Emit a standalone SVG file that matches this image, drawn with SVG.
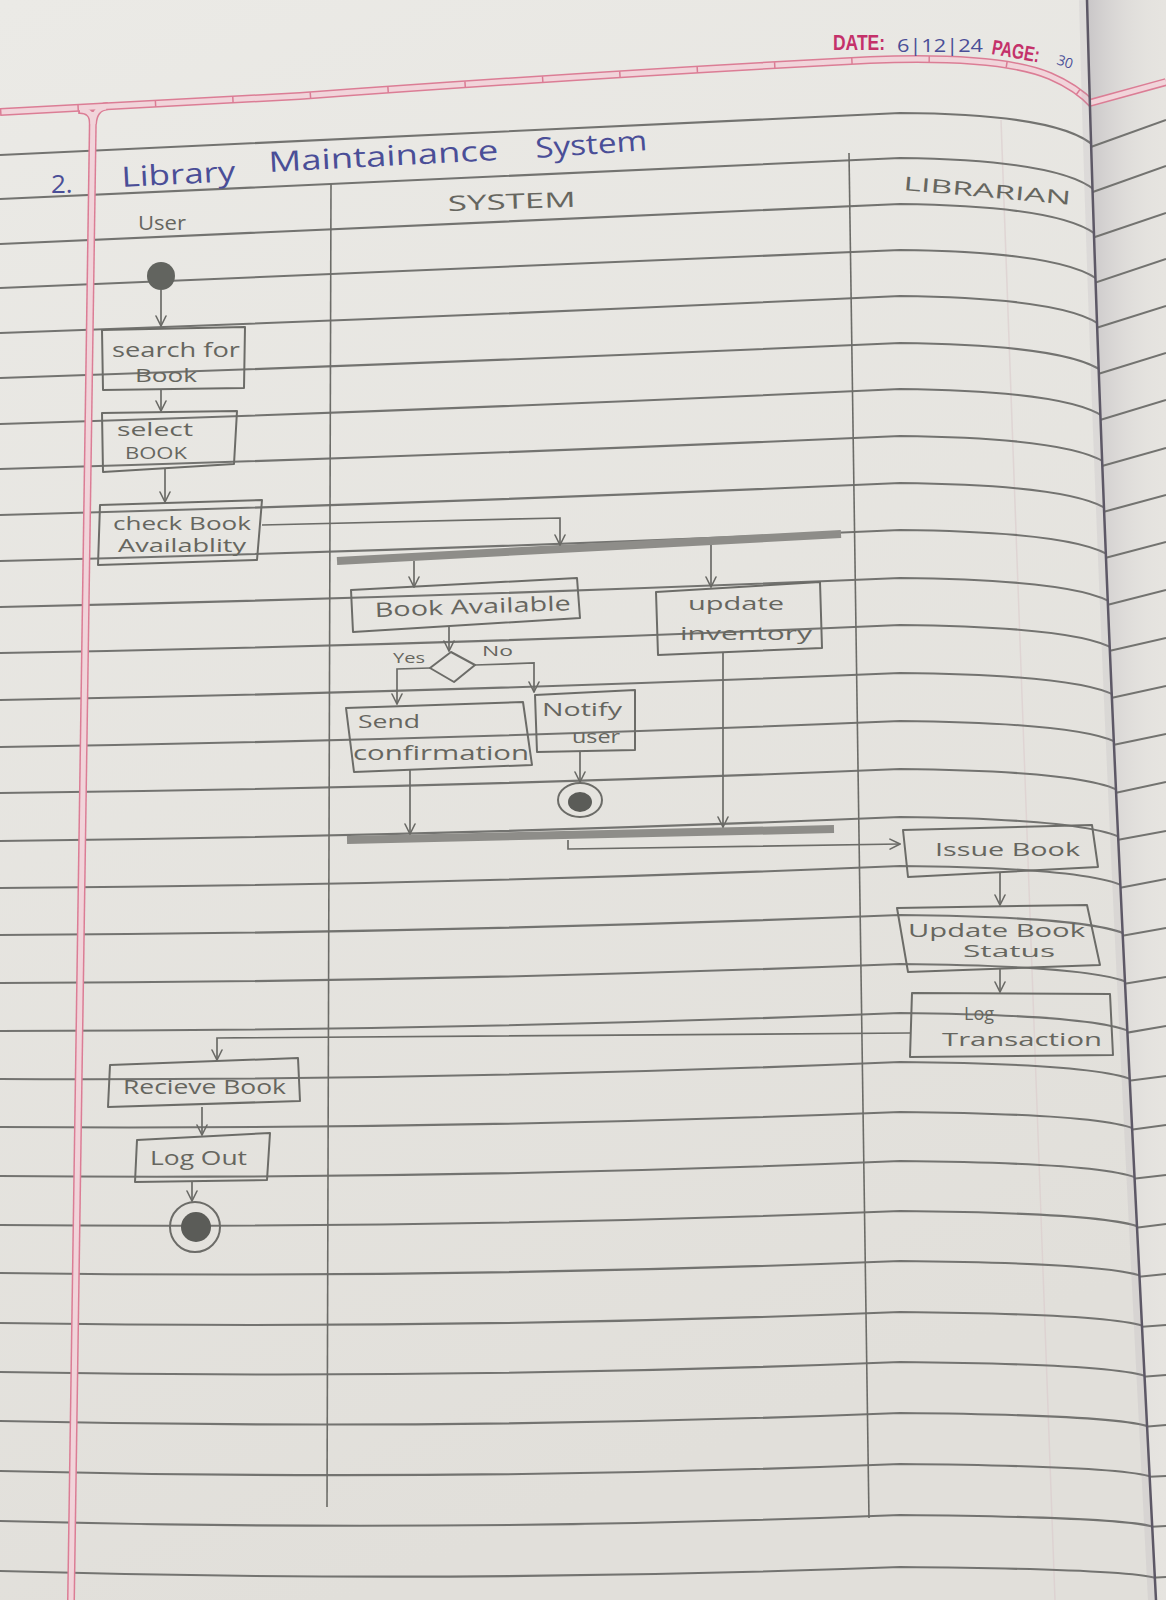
<svg xmlns="http://www.w3.org/2000/svg" width="1166" height="1600" viewBox="0 0 1166 1600">
<defs>
  <linearGradient id="paper" x1="0" y1="0" x2="0.3" y2="1">
    <stop offset="0" stop-color="#ebeae6"/>
    <stop offset="1" stop-color="#e1dfda"/>
  </linearGradient>
  <linearGradient id="foldShade" gradientUnits="userSpaceOnUse" x1="1088" y1="0" x2="1166" y2="0">
    <stop offset="0" stop-color="#a7a3ab" stop-opacity="0.45"/>
    <stop offset="1" stop-color="#e4e2de" stop-opacity="0"/>
  </linearGradient>
  <clipPath id="leftPage"><path d="M0,0 L1087,0 C1100,500 1125,1000 1156,1600 L0,1600 Z"/></clipPath>
  <clipPath id="rightPage"><path d="M1087,0 C1100,500 1125,1000 1156,1600 L1166,1600 L1166,0 Z"/></clipPath>
  <marker id="v" viewBox="0 0 12 12" refX="11" refY="6" markerWidth="12" markerHeight="12" markerUnits="userSpaceOnUse" orient="auto">
    <path d="M1,1 L11,6 L1,11" fill="none" stroke="#6a6a66" stroke-width="1.6" stroke-linecap="round"/>
  </marker>
  <style>
    .rule{fill:none;stroke:#737370;stroke-width:2.1}
    .box{fill:none;stroke:#6c6c68;stroke-width:2;stroke-linejoin:round}
    .pen{font-family:"Open Sans","DejaVu Sans",sans-serif;fill:#66665f}
    .ink{font-family:"Open Sans","DejaVu Sans",sans-serif;fill:#4a4e97}
    .conn{fill:none;stroke:#6c6c68;stroke-width:1.7;marker-end:url(#v)}
    .bar{stroke:#8e8d89;stroke-width:8}
    .pinkOuter{fill:none;stroke:#db7d95;stroke-width:8}
    .pinkInner{fill:none;stroke:#f1d4da;stroke-width:5}
    .printed{font-family:"Liberation Sans","Arial",sans-serif;fill:#c4316a;font-weight:bold}
  </style>
</defs>

<!-- paper -->
<rect x="0" y="0" width="1166" height="1600" fill="url(#paper)"/>

<!-- left page: ruled lines, margins, header band -->
<g id="left-page" clip-path="url(#leftPage)">
  <path d="M1001,120 L1055,1600" stroke="#d9c6c8" stroke-width="1.5" opacity="0.5"/>
  <g id="rules" class="rule">
    <path d="M0,155 Q450,134 900,113 Q1064,114 1096,148"/>
    <path d="M0,199 Q450,179 900,158 Q1066,160 1098,193"/>
    <path d="M0,244 Q450,225 900,204 Q1068,206 1100,238"/>
    <path d="M0,288 Q450,271 900,250 Q1070,252 1102,283"/>
    <path d="M0,333 Q450,317 900,296 Q1072,298 1104,328"/>
    <path d="M0,378 Q450,363 900,343 Q1074,345 1106,374"/>
    <path d="M0,424 Q450,410 900,389 Q1076,391 1108,420"/>
    <path d="M0,469 Q450,456 900,436 Q1078,438 1110,466"/>
    <path d="M0,515 Q450,503 900,483 Q1079,485 1111,512"/>
    <path d="M0,561 Q450,550 900,530 Q1081,532 1113,558"/>
    <path d="M0,607 Q450,597 900,578 Q1083,580 1115,605"/>
    <path d="M0,653 Q450,645 900,625 Q1085,627 1117,651"/>
    <path d="M0,700 Q450,692 900,673 Q1087,675 1119,698"/>
    <path d="M0,747 Q450,740 900,721 Q1089,723 1121,745"/>
    <path d="M0,793 Q450,788 900,769 Q1091,771 1123,793"/>
    <path d="M0,841 Q450,836 900,817 Q1093,819 1125,840"/>
    <path d="M0,888 Q450,885 900,866 Q1095,868 1127,888"/>
    <path d="M0,935 Q450,933 900,915 Q1097,917 1129,936"/>
    <path d="M0,983 Q450,982 900,964 Q1099,966 1131,984"/>
    <path d="M0,1031 Q450,1031 900,1013 Q1101,1015 1133,1033"/>
    <path d="M0,1079 Q450,1081 900,1062 Q1103,1064 1135,1081"/>
    <path d="M0,1127 Q450,1130 900,1112 Q1105,1114 1137,1130"/>
    <path d="M0,1176 Q450,1180 900,1161 Q1107,1163 1139,1179"/>
    <path d="M0,1225 Q450,1229 900,1211 Q1110,1213 1142,1228"/>
    <path d="M0,1273 Q450,1279 900,1261 Q1112,1263 1144,1277"/>
    <path d="M0,1323 Q450,1330 900,1312 Q1114,1314 1146,1327"/>
    <path d="M0,1372 Q450,1380 900,1362 Q1116,1364 1148,1377"/>
    <path d="M0,1421 Q450,1431 900,1413 Q1118,1415 1150,1427"/>
    <path d="M0,1471 Q450,1482 900,1464 Q1120,1466 1152,1477"/>
    <path d="M0,1521 Q450,1533 900,1515 Q1122,1517 1154,1527"/>
    <path d="M0,1571 Q450,1584 900,1567 Q1124,1569 1156,1578"/>
  </g>
  <!-- pink header band and margin -->
  <path class="pinkOuter" d="M0,112 L300,96 Q600,74 870,60 Q1000,55 1050,76 Q1078,88 1094,106"/>
  <path class="pinkOuter" d="M93,110 L71,1600"/>
  <path class="pinkOuter" d="M78,110 Q93,109 93,124 M108,106 Q94,107 93,124"/>
  <path class="pinkInner" d="M0,112 L300,96 Q600,74 870,60 Q1000,55 1050,76 Q1078,88 1094,106"/>
  <path class="pinkInner" d="M93,112 L71,1600"/>
  <path class="pinkInner" d="M80,110 Q93,110 93,124 M106,107 Q94,108 93,124"/>
  <path d="M0,112 L300,96 Q600,74 870,60 Q1000,55 1050,76 Q1078,88 1094,106" fill="none" stroke="#db7d95" stroke-width="6" stroke-dasharray="1.5 76"/>
  <!-- shading into the binding -->
  <path d="M1087,0 C1100,500 1125,1000 1156,1600" fill="none" stroke="#9c98a2" stroke-width="16" opacity="0.14"/>
</g>

<!-- right page strip beyond the binding -->
<g id="right-page" clip-path="url(#rightPage)">
  <rect x="1080" y="0" width="86" height="1600" fill="#e6e4e0"/>
  <rect x="1080" y="0" width="86" height="1600" fill="url(#foldShade)"/>
  <g class="rule">
    <path d="M1088,148 L1166,120"/><path d="M1090,193 L1166,166"/><path d="M1092,238 L1166,213"/>
    <path d="M1094,283 L1166,259"/><path d="M1096,328 L1166,306"/><path d="M1098,374 L1166,353"/>
    <path d="M1100,420 L1166,400"/><path d="M1102,466 L1166,448"/><path d="M1103,512 L1166,495"/>
    <path d="M1105,558 L1166,542"/><path d="M1107,605 L1166,590"/><path d="M1109,651 L1166,638"/>
    <path d="M1111,698 L1166,686"/><path d="M1113,745 L1166,734"/><path d="M1115,793 L1166,782"/>
    <path d="M1117,840 L1166,831"/><path d="M1119,888 L1166,879"/><path d="M1121,936 L1166,928"/>
    <path d="M1123,984 L1166,977"/><path d="M1125,1033 L1166,1026"/><path d="M1127,1081 L1166,1076"/>
    <path d="M1129,1130 L1166,1125"/><path d="M1131,1179 L1166,1175"/><path d="M1134,1228 L1166,1224"/>
    <path d="M1136,1277 L1166,1274"/><path d="M1138,1327 L1166,1325"/><path d="M1140,1377 L1166,1375"/>
    <path d="M1142,1427 L1166,1425"/><path d="M1144,1477 L1166,1476"/><path d="M1146,1527 L1166,1526"/>
    <path d="M1148,1578 L1166,1577"/>
  </g>
  <path class="pinkOuter" d="M1086,104 L1166,82"/>
  <path class="pinkInner" d="M1086,104 L1166,82"/>
</g>
<path id="binding" d="M1087,0 C1100,500 1125,1000 1156,1600" fill="none" stroke="#5d5866" stroke-width="2.5"/>

<!-- printed page header -->
<g id="page-header">
  <text class="printed" x="833" y="50" font-size="22" textLength="52" lengthAdjust="spacingAndGlyphs">DATE:</text>
  <text class="ink" x="897" y="52" font-size="18" textLength="86" lengthAdjust="spacingAndGlyphs">6|12|24</text>
  <text class="printed" x="991" y="54" font-size="21" textLength="48" lengthAdjust="spacingAndGlyphs" transform="rotate(10 991 54)">PAGE:</text>
  <text class="ink" x="1056" y="64" font-size="14" transform="rotate(18 1056 64)">30</text>
</g>

<!-- title and swimlanes -->
<g id="title">
  <text class="ink" x="51" y="193" font-size="26">2.</text>
  <text class="ink" x="122" y="187" font-size="28" textLength="114" lengthAdjust="spacingAndGlyphs" transform="rotate(-3 122 187)">Library</text>
  <text class="ink" x="269" y="172" font-size="28" textLength="230" lengthAdjust="spacingAndGlyphs" transform="rotate(-3 269 172)">Maintainance</text>
  <text class="ink" x="536" y="158" font-size="28" textLength="112" lengthAdjust="spacingAndGlyphs" transform="rotate(-4 536 158)">System</text>
</g>

<g id="swimlanes">
  <path d="M331,184 L327,1507" stroke="#6c6c68" stroke-width="1.6" fill="none"/>
  <path d="M849,153 L869,1518" stroke="#6c6c68" stroke-width="1.6" fill="none"/>
  <text class="pen" x="138" y="230" font-size="20" textLength="48" lengthAdjust="spacingAndGlyphs">User</text>
  <text class="pen" x="448" y="211" font-size="21" textLength="128" lengthAdjust="spacingAndGlyphs" transform="rotate(-2 448 211)">SYSTEM</text>
  <text class="pen" x="903" y="190" font-size="19" textLength="168" lengthAdjust="spacingAndGlyphs" transform="rotate(5 903 190)">LIBRARIAN</text>
</g>

<!-- user lane -->
<g id="start"><circle cx="161" cy="276" r="14" fill="#62645f"/></g>

<g id="search-for-book">
  <polygon class="box" points="102,330 245,327 244,388 103,390"/>
  <text class="pen" x="112" y="357" font-size="20" textLength="128" lengthAdjust="spacingAndGlyphs">search for</text>
  <text class="pen" x="135" y="382" font-size="18" textLength="62" lengthAdjust="spacingAndGlyphs">Book</text>
</g>

<g id="select-book">
  <polygon class="box" points="102,413 237,411 234,464 103,472"/>
  <text class="pen" x="117" y="436" font-size="19" textLength="76" lengthAdjust="spacingAndGlyphs">select</text>
  <text class="pen" x="125" y="459" font-size="16" textLength="62" lengthAdjust="spacingAndGlyphs">BOOK</text>
</g>

<g id="check-book-availability">
  <polygon class="box" points="100,505 262,500 257,560 98,565"/>
  <text class="pen" x="113" y="530" font-size="18" textLength="138" lengthAdjust="spacingAndGlyphs">check Book</text>
  <text class="pen" x="118" y="552" font-size="18" textLength="128" lengthAdjust="spacingAndGlyphs">Availablity</text>
</g>

<g id="recieve-book">
  <polygon class="box" points="110,1065 298,1058 300,1101 108,1107"/>
  <text class="pen" x="123" y="1094" font-size="20" textLength="163" lengthAdjust="spacingAndGlyphs">Recieve Book</text>
</g>

<g id="log-out">
  <polygon class="box" points="137,1140 270,1133 267,1180 135,1182"/>
  <text class="pen" x="150" y="1165" font-size="20" textLength="97" lengthAdjust="spacingAndGlyphs">Log Out</text>
</g>

<g id="end-user">
  <circle cx="195" cy="1227" r="25" fill="none" stroke="#6c6c68" stroke-width="2"/>
  <circle cx="196" cy="1227" r="15" fill="#5b5c58"/>
</g>

<!-- system lane -->
<g id="fork"><line class="bar" x1="337" y1="561" x2="841" y2="534"/></g>

<g id="book-available">
  <polygon class="box" points="351,590 577,578 580,618 353,632"/>
  <text class="pen" x="375" y="617" font-size="20" textLength="196" lengthAdjust="spacingAndGlyphs" transform="rotate(-2 375 617)">Book Available</text>
</g>

<g id="update-inventory">
  <polygon class="box" points="656,592 820,582 822,648 658,655"/>
  <text class="pen" x="688" y="610" font-size="19" textLength="96" lengthAdjust="spacingAndGlyphs">update</text>
  <text class="pen" x="680" y="640" font-size="19" textLength="132" lengthAdjust="spacingAndGlyphs">inventory</text>
</g>

<g id="decision">
  <polygon class="box" points="430,668 451,652 475,665 454,682"/>
  <text class="pen" x="393" y="663" font-size="15" textLength="32" lengthAdjust="spacingAndGlyphs">Yes</text>
  <text class="pen" x="482" y="656" font-size="15" textLength="31" lengthAdjust="spacingAndGlyphs">No</text>
</g>

<g id="send-confirmation">
  <polygon class="box" points="346,708 523,702 532,765 354,772"/>
  <text class="pen" x="358" y="728" font-size="19" textLength="62" lengthAdjust="spacingAndGlyphs">Send</text>
  <text class="pen" x="353" y="760" font-size="20" textLength="176" lengthAdjust="spacingAndGlyphs">confirmation</text>
</g>

<g id="notify-user">
  <polygon class="box" points="535,695 635,690 635,750 537,752"/>
  <text class="pen" x="542" y="716" font-size="18" textLength="80" lengthAdjust="spacingAndGlyphs">Notify</text>
  <text class="pen" x="572" y="743" font-size="18" textLength="48" lengthAdjust="spacingAndGlyphs">user</text>
</g>

<g id="end-not-available">
  <ellipse cx="580" cy="800" rx="22" ry="17" fill="none" stroke="#6c6c68" stroke-width="2"/>
  <ellipse cx="580" cy="802" rx="12" ry="10" fill="#5b5c58"/>
</g>

<g id="join"><line class="bar" x1="347" y1="840" x2="834" y2="829"/></g>

<!-- librarian lane -->
<g id="issue-book">
  <polygon class="box" points="903,830 1092,825 1098,867 908,877"/>
  <text class="pen" x="935" y="856" font-size="19" textLength="145" lengthAdjust="spacingAndGlyphs">Issue Book</text>
</g>

<g id="update-book-status">
  <polygon class="box" points="897,908 1087,905 1100,965 908,972"/>
  <text class="pen" x="908" y="937" font-size="19" textLength="177" lengthAdjust="spacingAndGlyphs">Update Book</text>
  <text class="pen" x="963" y="957" font-size="16" textLength="92" lengthAdjust="spacingAndGlyphs">Status</text>
</g>

<g id="log-transaction">
  <polygon class="box" points="912,993 1110,994 1113,1055 910,1057"/>
  <text class="pen" x="964" y="1020" font-size="18" textLength="30" lengthAdjust="spacingAndGlyphs">Log</text>
  <text class="pen" x="942" y="1046" font-size="19" textLength="160" lengthAdjust="spacingAndGlyphs">Transaction</text>
</g>

<!-- control flow -->
<g id="connectors">
  <path class="conn" d="M161,290 L161,326"/>
  <path class="conn" d="M161,389 L161,411"/>
  <path class="conn" d="M165,469 L165,502"/>
  <path class="conn" d="M262,525 L560,518 L560,545"/>
  <path class="conn" d="M414,561 L414,587"/>
  <path class="conn" d="M711,545 L711,587"/>
  <path class="conn" d="M449,626 L449,651"/>
  <path class="conn" d="M430,668 L397,669 L397,704"/>
  <path class="conn" d="M475,665 L534,663 L534,692"/>
  <path class="conn" d="M580,752 L580,782"/>
  <path class="conn" d="M410,770 L410,834"/>
  <path class="conn" d="M723,652 L723,827"/>
  <path class="conn" d="M568,840 L568,849 L900,844"/>
  <path class="conn" d="M1000,873 L1000,905"/>
  <path class="conn" d="M1000,969 L1000,992"/>
  <path class="conn" d="M910,1033 L217,1038 L217,1060"/>
  <path class="conn" d="M202,1107 L202,1135"/>
  <path class="conn" d="M192,1182 L192,1201"/>
</g>
</svg>
